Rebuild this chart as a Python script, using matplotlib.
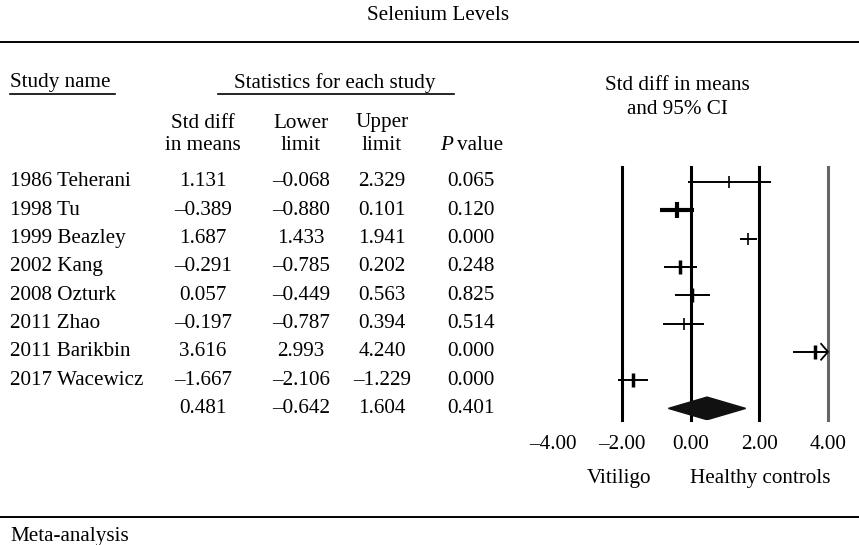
import matplotlib.pyplot as plt
import numpy as np

plt.rcParams['font.family'] = ['Liberation Serif', 'DejaVu Serif']

studies = ['1986 Teherani', '1998 Tu', '1999 Beazley', '2002 Kang', '2008 Ozturk',
           '2011 Zhao', '2011 Barikbin', '2017 Wacewicz']
std_diff = [1.131, -0.389, 1.687, -0.291, 0.057, -0.197, 3.616, -1.667]
lower = [-0.068, -0.880, 1.433, -0.785, -0.449, -0.787, 2.993, -2.106]
upper = [2.329, 0.101, 1.941, 0.202, 0.563, 0.394, 4.240, -1.229]
p_values = [0.065, 0.120, 0.000, 0.248, 0.825, 0.514, 0.000, 0.000]
pooled = [0.481, -0.642, 1.604, 0.401]
ticks = [-4, -2, 0, 2, 4]
ref_lines = [-2, 0, 2, 4]

# marker look per study (heavier = more weight)
tick_h = [9, 11, 9, 10, 10, 9, 10, 10]
tick_w = [1.2, 3, 1.2, 2.5, 2.5, 1.2, 2.5, 2.5]
ci_w = [1.4, 3, 1.4, 1.4, 1.4, 1.4, 1.4, 1.4]

fs = 15.2
fig = plt.figure(figsize=(8.59, 5.45), dpi=100)

# text layer in pixel coordinates
bg = fig.add_axes([0, 0, 1, 1])
bg.set_xlim(0, 859)
bg.set_ylim(545, 0)
bg.axis('off')

bg.text(438, 15, 'Selenium Levels', ha='center', va='center', fontsize=fs)
bg.plot([0, 859], [41.5, 41.5], color='black', lw=1.4)
bg.text(10, 83, 'Study name', ha='left', va='center', fontsize=fs)
bg.plot([10, 115], [94, 94], color='black', lw=1.2)
bg.text(335, 83, 'Statistics for each study', ha='center', va='center', fontsize=fs)
bg.plot([218, 454], [94, 94], color='black', lw=1.2)
bg.text(677, 85, 'Std diff in means', ha='center', va='center', fontsize=fs)
bg.text(677, 109, 'and 95% CI', ha='center', va='center', fontsize=fs)

col_x = [203, 301, 382, 471]
bg.text(col_x[0], 123, 'Std diff', ha='center', va='center', fontsize=fs)
bg.text(col_x[0], 145, 'in means', ha='center', va='center', fontsize=fs)
bg.text(col_x[1], 123, 'Lower', ha='center', va='center', fontsize=fs)
bg.text(col_x[1], 145, 'limit', ha='center', va='center', fontsize=fs)
bg.text(col_x[2], 123, 'Upper', ha='center', va='center', fontsize=fs)
bg.text(col_x[2], 145, 'limit', ha='center', va='center', fontsize=fs)
bg.text(453, 145, 'P', ha='right', va='center', fontsize=fs, style='italic')
bg.text(457, 145, 'value', ha='left', va='center', fontsize=fs)


def fmt(v):
    return f'{v:.3f}'.replace('-', '\u2013')


row0, step = 182, 28.3
for i, name in enumerate(studies):
    y = row0 + i * step
    bg.text(10, y, name, ha='left', va='center', fontsize=fs)
    for x, v in zip(col_x, [std_diff[i], lower[i], upper[i], p_values[i]]):
        bg.text(x, y, fmt(v), ha='center', va='center', fontsize=fs)
y = row0 + len(studies) * step
for x, v in zip(col_x, pooled):
    bg.text(x, y, fmt(v), ha='center', va='center', fontsize=fs)

bg.text(619, 479, 'Vitiligo', ha='center', va='center', fontsize=fs)
bg.text(760, 479, 'Healthy controls', ha='center', va='center', fontsize=fs)
bg.plot([0, 859], [517, 517], color='black', lw=1.4)
bg.text(10, 537, 'Meta-analysis', ha='left', va='center', fontsize=fs)

# forest plot
top_px, bot_px, left_px, right_px = 167, 420, 553, 828
ax = fig.add_axes([left_px / 859, 1 - bot_px / 545,
                   (right_px - left_px) / 859, (bot_px - top_px) / 545])
ax.patch.set_alpha(0)
ax.set_xlim(-4, 4)
ax.set_ylim((bot_px - row0) / step, (top_px - row0) / step)
for s in ax.spines.values():
    s.set_visible(False)
ax.set_yticks([])
ax.set_xticks(ticks)
ax.set_xticklabels([f'{t:.2f}'.replace('-', '\u2013') for t in ticks], fontsize=fs)
ax.tick_params(axis='x', length=0, pad=11)

for r in ref_lines:
    ax.axvline(r, color='#666666' if r == 4 else 'black', lw=2.2, zorder=1,
               clip_on=False)

for i in range(len(studies)):
    lo, hi = lower[i], min(upper[i], 4)
    ax.plot([lo, hi], [i, i], color='black', lw=ci_w[i], zorder=3,
            solid_capstyle='butt')
    ax.plot(std_diff[i], i, marker='|', markersize=tick_h[i],
            markeredgewidth=tick_w[i], color='black', zorder=4)
    if upper[i] > 4:
        ax.plot([4 - 0.2, 4, 4 - 0.2], [i - 0.28, i, i + 0.28],
                color='black', lw=1.3, zorder=4, clip_on=False)

k = len(studies)
est, lo, hi = pooled[0], pooled[1], pooled[2]
ax.fill([lo, est, hi, est], [k, k - 0.4, k, k + 0.4], color='#111111', zorder=5)

fig.savefig('out.png', dpi=100)
